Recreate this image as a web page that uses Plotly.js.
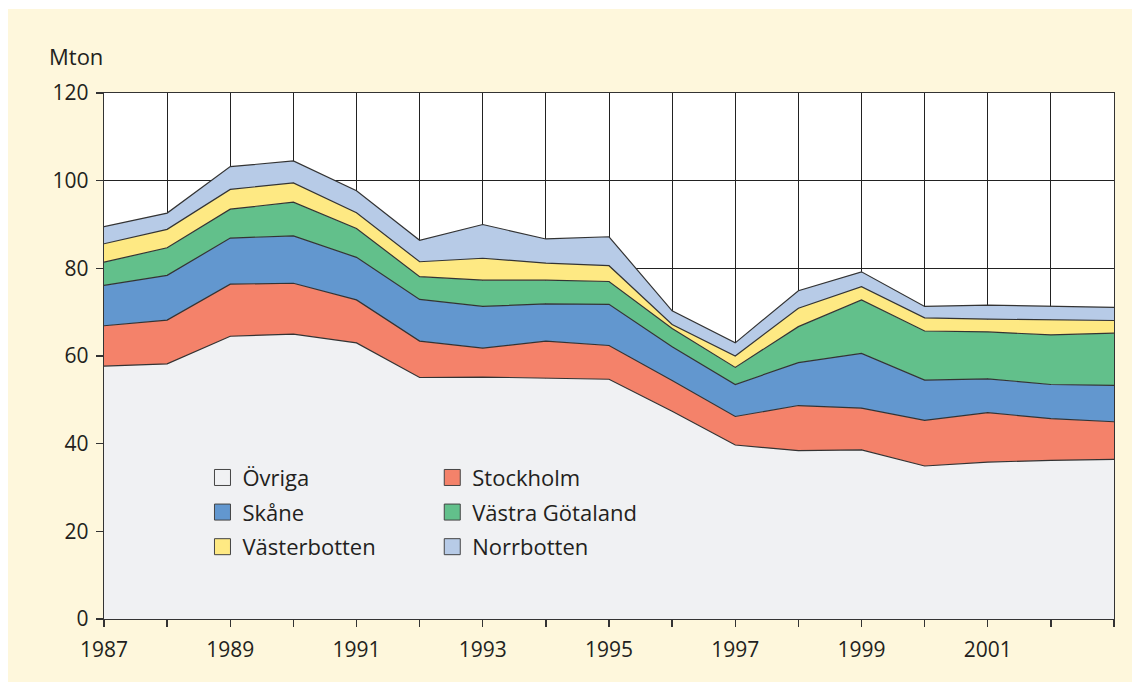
<!DOCTYPE html>
<html>
<head>
<meta charset="utf-8">
<script src="https://cdn.plot.ly/plotly-3.0.1.min.js"></script>
<style>
html,body{margin:0;padding:0;background:#ffffff;}
#chart{position:absolute;left:8px;top:9px;width:1124px;height:673px;}
</style>
</head>
<body>
<div id="chart"></div>
<script>
const years = [1987,1988,1989,1990,1991,1992,1993,1994,1995,1996,1997,1998,1999,2000,2001,2002,2003];
const seriesNames = ["Övriga","Stockholm","Skåne","Västra Götaland","Västerbotten","Norrbotten"];
const ovriga    = [57.7,58.2,64.5,65.0,63.0,55.1,55.2,55.0,54.7,47.4,39.7,38.4,38.6,34.9,35.8,36.2,36.4];
const stockholm = [9.2,10.0,11.9,11.6,9.8,8.3,6.6,8.4,7.7,7.0,6.5,10.3,9.5,10.4,11.3,9.5,8.6];
const skane     = [9.2,10.2,10.5,10.8,9.7,9.5,9.5,8.5,9.4,7.7,7.3,9.8,12.5,9.2,7.7,7.8,8.3];
const vgotaland = [5.3,6.3,6.6,7.7,6.6,5.2,6.0,5.4,5.2,4.2,3.9,8.2,12.2,11.2,10.7,11.3,11.9];
const vbotten   = [4.2,4.2,4.5,4.4,3.6,3.4,5.0,3.9,3.6,0.9,2.6,4.2,3.0,3.0,2.9,3.4,2.9];
const nbotten   = [3.9,3.7,5.2,5.0,5.0,4.9,7.7,5.5,6.6,3.1,3.0,4.0,3.4,2.6,3.2,3.2,3.0];
const xTickLabels = ["1987","","1989","","1991","","1993","","1995","","1997","","1999","","2001","",""];
const yTicks = [0,20,40,60,80,100,120];

const values = [ovriga, stockholm, skane, vgotaland, vbotten, nbotten];
const colors = ["#f0f1f3","#f4826a","#6297cf","#62c08b","#fee983","#b7cbe7"];
const legendOf = ["legend","legend2","legend","legend2","legend","legend2"];

const traces = [];
values.forEach((v,i)=>{
  traces.push({
    type:'scatter', x:years, y:v, stackgroup:'one', mode:'lines',
    line:{color:'#333333', width:1.2}, fillcolor:colors[i],
    name:seriesNames[i], showlegend:false, hoverinfo:'skip'
  });
});
values.forEach((v,i)=>{
  traces.push({
    type:'scatter', x:[null], y:[null], mode:'markers', name:seriesNames[i],
    legend:legendOf[i], legendgroup:'g'+i,
    marker:{symbol:'square', size:16, color:colors[i], line:{color:'#444444', width:1}}
  });
});

const fam = '"Open Sans", "Noto Sans", sans-serif';
const tickFnt = {family:fam, size:21, color:'#231f20'};
const bigFnt = {family:fam, size:22, color:'#231f20'};
const legendCommon = {bgcolor:'rgba(0,0,0,0)', font:bigFnt, traceorder:'grouped', tracegroupgap:3,
  itemsizing:'trace', yanchor:'top', xanchor:'left'};

const layout = {
  width:1124, height:673,
  paper_bgcolor:'#fef7dc', plot_bgcolor:'#ffffff',
  margin:{l:96, r:18, t:84, b:63},
  font:tickFnt,
  xaxis:{range:[1987,2003], tickvals:years, ticktext:xTickLabels, ticks:'outside', ticklen:7,
    tickcolor:'#333', tickwidth:1.3, showgrid:true, gridcolor:'#222222', gridwidth:1,
    showline:true, linecolor:'#333', linewidth:1.3, mirror:true, zeroline:false,
    tickfont:tickFnt, ticklabelstandoff:4, fixedrange:true},
  yaxis:{range:[0,120], tickvals:yTicks, ticks:'outside', ticklen:7, tickcolor:'#333', tickwidth:1.3,
    showgrid:true, gridcolor:'#222222', gridwidth:1, showline:true, linecolor:'#333', linewidth:1.3,
    mirror:true, zeroline:false, tickfont:tickFnt, ticklabelstandoff:3, fixedrange:true},
  legend: Object.assign({x:0.0975, y:0.3086}, legendCommon),
  legend2: Object.assign({x:0.325, y:0.3086}, legendCommon),
  annotations:[{text:'Mton', xref:'paper', yref:'paper', x:-0.056, y:1.0, xanchor:'left', yanchor:'bottom',
    yshift:20, showarrow:false, font:bigFnt}],
  showlegend:true
};

Plotly.newPlot('chart', traces, layout, {displayModeBar:false, staticPlot:true});
</script>
</body>
</html>
